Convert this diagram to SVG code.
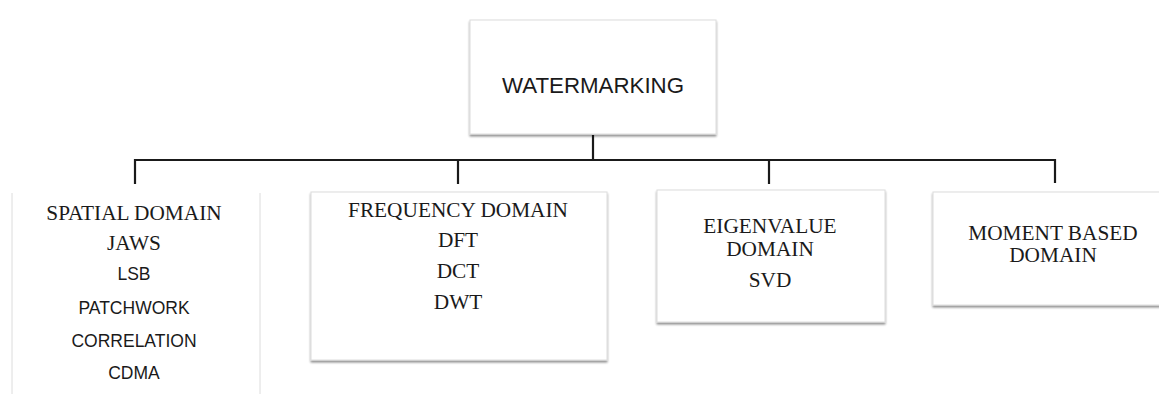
<svg xmlns="http://www.w3.org/2000/svg" width="1159" height="394" viewBox="0 0 1159 394">
<defs>
<filter id="sh" x="-5%" y="-5%" width="110%" height="115%">
<feGaussianBlur in="SourceAlpha" stdDeviation="1.2"/>
<feOffset dx="0" dy="2" result="b"/>
<feComponentTransfer><feFuncA type="linear" slope="0.45"/></feComponentTransfer>
<feMerge><feMergeNode/><feMergeNode in="SourceGraphic"/></feMerge>
</filter>
</defs>
<style>
.box{fill:#fff;stroke:#dcdcdc;stroke-width:1}
.serif{font-family:"Liberation Serif","Times New Roman",serif;font-size:21.3px;fill:#1a1a1a;text-anchor:middle}
.sans{font-family:"Liberation Sans",Arial,sans-serif;font-size:17.5px;fill:#1a1a1a;text-anchor:middle}
.conn{stroke:#1a1a1a;stroke-width:2.2;fill:none}
</style>
<rect width="1159" height="394" fill="#fff"/>
<g id="connectors">
<line class="conn" x1="593" y1="135" x2="593" y2="160"/>
<line class="conn" x1="134" y1="160" x2="1055" y2="160"/>
<line class="conn" x1="135" y1="159" x2="135" y2="184"/>
<line class="conn" x1="458" y1="159" x2="458" y2="184"/>
<line class="conn" x1="769" y1="159" x2="769" y2="184"/>
<line class="conn" x1="1055" y1="159" x2="1055" y2="183"/>
</g>
<g id="watermarking">
<rect class="box" x="470" y="20" width="246" height="114" filter="url(#sh)"/>
<text x="593" y="93" style="font-family:'Liberation Sans',Arial,sans-serif;font-size:22.3px;fill:#1a1a1a;text-anchor:middle">WATERMARKING</text>
</g>
<g id="spatial">
<line x1="12" y1="193" x2="12" y2="394" stroke="#dcdcdc" stroke-width="1"/>
<line x1="260" y1="193" x2="260" y2="394" stroke="#dcdcdc" stroke-width="1"/>
<text class="serif" x="134" y="220">SPATIAL DOMAIN</text>
<text class="serif" x="134" y="250">JAWS</text>
<text class="sans" x="134" y="280">LSB</text>
<text class="sans" x="134" y="314">PATCHWORK</text>
<text class="sans" x="134" y="347">CORRELATION</text>
<text class="sans" x="134" y="379">CDMA</text>
</g>
<g id="frequency">
<rect class="box" x="311" y="192" width="296" height="168" filter="url(#sh)"/>
<text class="serif" x="458" y="217">FREQUENCY DOMAIN</text>
<text class="serif" x="458" y="247">DFT</text>
<text class="serif" x="458" y="278">DCT</text>
<text class="serif" x="458" y="309">DWT</text>
</g>
<g id="eigenvalue">
<rect class="box" x="657" y="190" width="228" height="132" filter="url(#sh)"/>
<text class="serif" x="770" y="233">EIGENVALUE</text>
<text class="serif" x="770" y="256">DOMAIN</text>
<text class="serif" x="770" y="287">SVD</text>
</g>
<g id="moment">
<rect class="box" x="933" y="192" width="240" height="113" filter="url(#sh)"/>
<text class="serif" x="1053" y="240">MOMENT BASED</text>
<text class="serif" x="1053" y="262">DOMAIN</text>
</g>
</svg>
